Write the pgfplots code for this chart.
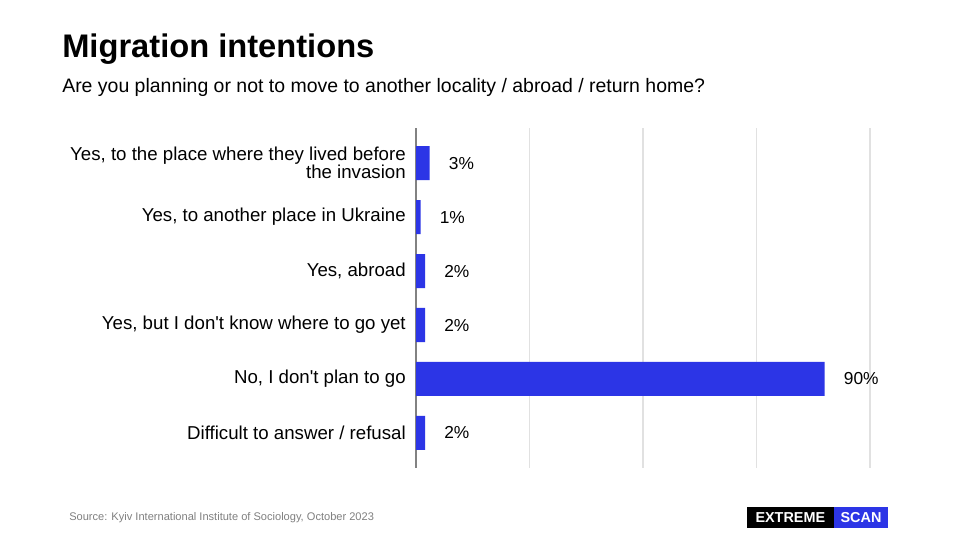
\documentclass[border=0pt]{standalone}
\usepackage{fontspec}
\setmainfont{Liberation Sans}
\usepackage{pgfplots}
\pgfplotsset{compat=1.18}
\definecolor{barblue}{RGB}{44,53,230}
\definecolor{gridgray}{RGB}{225,225,225}
\definecolor{axisgray}{RGB}{130,130,130}
\definecolor{srcgray}{RGB}{128,128,128}
\begin{document}
\begin{tikzpicture}
\useasboundingbox[fill=white] (0,0) rectangle (720pt,-405pt);
% title and question
\node[anchor=base west, inner sep=0pt, font=\fontsize{24.5}{28}\selectfont\bfseries] at (46.5pt,-42.75pt) {Migration intentions};
\node[anchor=base west, inner sep=0pt, font=\fontsize{14.6}{17}\selectfont] at (46.5pt,-69pt) {Are you planning or not to move to another locality / abroad / return home?};
\begin{axis}[
  at={(312pt,-351pt)}, anchor=south west,
  scale only axis, width=340.5pt, height=255pt,
  xbar, bar width=25.5pt,
  xmin=0, xmax=100, ymin=-0.65, ymax=5.65,
  y dir=reverse,
  axis line style={draw=none},
  major tick length=0pt,
  xtick={25,50,75,100}, xticklabels={},
  extra x ticks={0}, extra x tick labels={},
  extra x tick style={grid style={color=axisgray, line width=0.8pt}},
  xmajorgrids, grid style={color=gridgray, line width=0.8pt},
  ytick={0,1,2,3,4,5},
  yticklabels={{Yes, to the place where they lived before\\the invasion},
               {Yes, to another place in Ukraine},
               {Yes, abroad},
               {Yes, but I don\textquotesingle t know where to go yet},
               {No, I don\textquotesingle t plan to go},
               {Difficult to answer / refusal}},
  yticklabel style={align=right, inner sep=0pt, xshift=-7.5pt,
    font=\fontsize{14}{13.5}\selectfont},
  /pgf/number format/assume math mode=true,
  nodes near coords={\pgfmathprintnumber{\pgfplotspointmeta}\%},
  every node near coord/.append style={anchor=west, inner sep=0pt, xshift=14.25pt,
    font=\fontsize{13}{13}\selectfont, text=black},
  clip=false,
]
\addplot[fill=barblue, draw=none] coordinates {
  (3,0) (1,1) (2,2) (2,3) (90,4) (2,5)
};
\end{axis}
% footer
\node[anchor=base west, inner sep=0pt, font=\fontsize{8.3}{10}\selectfont, text=srcgray] at (51.75pt,-390pt) {Source: Kyiv International Institute of Sociology, October 2023};
\fill[black] (560pt,-380pt) rectangle (625.5pt,-396pt);
\fill[barblue] (625.5pt,-380pt) rectangle (666pt,-396pt);
\node[font=\fontsize{10.8}{12}\selectfont\bfseries, text=white, inner sep=0pt] at (592.75pt,-388pt) {EXTREME};
\node[font=\fontsize{10.8}{12}\selectfont\bfseries, text=white, inner sep=0pt] at (645.75pt,-388pt) {SCAN};
\end{tikzpicture}
\end{document}
